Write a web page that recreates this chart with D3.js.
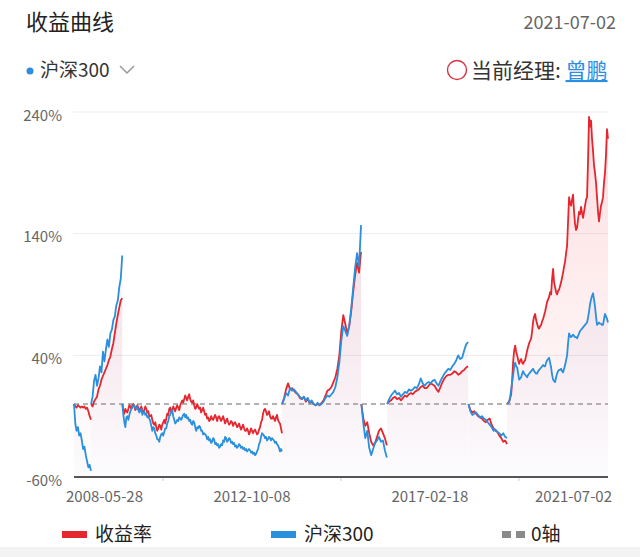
<!DOCTYPE html>
<html><head><meta charset="utf-8">
<script src="https://cdn.jsdelivr.net/npm/d3@7/dist/d3.min.js"></script>
<style>
html,body{margin:0;padding:0;background:#fff;}
svg{display:block;font-family:"Noto Sans CJK SC","Noto Sans",sans-serif;}
</style></head><body>
<svg id="c" width="640" height="557"></svg>
<script>
// ---- data ----
const yTicks = [-60, 40, 140, 240];
const xLabels = ["2008-05-28", "2012-10-08", "2017-02-18", "2021-07-02"];
const segStart = ["2008-05-28","2008-10-28","2009-08-04","2013-07-05","2015-06-15","2016-02-01","2018-01-29","2019-01-11"];
const segEnd   = ["2008-10-27","2009-08-03","2013-07-04","2015-06-12","2016-01-29","2018-01-26","2019-01-10","2021-07-02"];

const fund1 = [0,-2,-3,-1,-2,-3,-2,-3,-2,-4,-3,-6,-10,-13];
const hs1   = [0,-16,-22,-19,-26,-24,-30,-37,-35,-42,-47,-52,-50,-55];
const fund2 = [0,-2,2,4,6,12,15,20,23,26,29,32,36,39,45,50,58,66,73,79,85,87];
const hs2   = [0,6,19,24,15,21,31,26,43,35,45,53,47,58,61,69,72,81,85,96,103,122];
const fund3 = [0,-5,-8,-4,-6,-7,-4,-1,-2,-4,-1,0,-2,-5,-3,-1,-3,-6,-4,-2,-5,-7,-5,-2,-4,-7,-6,-10,-10,-9,-13,-16,-17,-15,-19,-22,-20,-17,-18,-21,-17,-15,-13,-16,-12,-8,-9,-4,-3,-7,-5,-2,-4,-6,-3,-1,-3,-5,-1,1,3,1,4,7,5,3,6,8,4,2,1,3,-1,-4,-3,0,-2,-4,-3,-7,-5,-3,-6,-9,-8,-12,-11,-14,-13,-10,-12,-13,-11,-9,-11,-14,-11,-10,-12,-14,-12,-10,-13,-16,-14,-12,-15,-17,-16,-14,-15,-18,-16,-15,-17,-19,-18,-16,-19,-21,-19,-17,-20,-22,-22,-20,-22,-25,-23,-20,-22,-24,-22,-21,-23,-25,-24,-21,-19,-15,-13,-8,-5,-4,-6,-9,-8,-6,-10,-12,-12,-10,-12,-14,-11,-9,-13,-15,-16,-20,-24];
const hs3   = [0,-9,-15,-19,-11,-10,-13,-9,-6,-4,-3,-1,-1,-3,-4,-2,-5,-7,-6,-4,-9,-7,-6,-9,-8,-11,-10,-12,-14,-18,-22,-19,-20,-24,-26,-29,-29,-31,-27,-25,-24,-26,-23,-20,-20,-16,-14,-10,-9,-6,-5,-10,-13,-16,-15,-13,-14,-11,-12,-13,-11,-9,-8,-11,-9,-12,-11,-14,-13,-16,-17,-14,-15,-19,-22,-19,-20,-18,-19,-22,-22,-25,-24,-25,-26,-29,-27,-30,-29,-32,-31,-28,-29,-33,-32,-34,-33,-36,-35,-33,-34,-30,-31,-27,-28,-31,-30,-28,-29,-32,-31,-33,-32,-35,-34,-36,-35,-33,-34,-36,-35,-37,-36,-38,-37,-39,-38,-37,-38,-40,-39,-41,-40,-42,-41,-39,-37,-33,-31,-27,-24,-25,-26,-28,-27,-30,-29,-27,-28,-30,-28,-29,-30,-32,-31,-33,-34,-36,-39,-37,-39];
const fund4 = [0,5,12,17,12,13,11,9,8,5,4,6,2,4,1,2,0,-1,0,-1,1,3,7,11,12,14,18,22,29,40,60,73,66,58,64,76,92,106,116,108,125];
const hs4   = [0,4,9,7,13,11,12,10,8,6,4,6,3,5,1,3,0,-1,1,-1,0,2,5,7,6,8,10,14,22,34,52,64,60,56,64,78,95,112,124,113,147];
const fund5 = [0,-12,-18,-15,-24,-31,-34,-32,-27,-22,-20,-24,-28,-34];
const hs5   = [0,-16,-28,-22,-36,-42,-37,-32,-30,-27,-31,-30,-38,-44];
const fund6 = [0,2,3,5,6,4,5,3,5,7,6,8,9,8,10,11,12,14,15,13,13,15,17,16,15,12,10,14,18,21,23,24,24,25,27,26,24,25,27,28,30,31];
const hs6   = [0,4,7,9,11,8,9,6,8,10,9,12,11,12,14,13,16,21,17,15,17,18,17,19,20,17,15,19,22,25,27,29,28,31,33,36,40,37,38,44,49,51];
const fund7 = [0,-5,-7,-6,-8,-10,-11,-12,-14,-15,-13,-12,-17,-20,-22,-23,-26,-28,-31,-30,-33];
const hs7   = [0,-6,-9,-8,-7,-9,-11,-10,-12,-13,-15,-17,-19,-22,-21,-23,-24,-26,-24,-27,-28];
const fund8 = [0,1,2,5,8,20,35,44,48,43,40,36,33,36,37,34,33,35,36,40,44,47,50,52,54,60,68,72,74,69,66,63,62,64,65,68,70,73,76,80,84,86,88,92,90,103,111,100,96,92,90,93,94,97,100,104,108,113,117,124,130,150,170,165,163,168,172,158,148,143,145,152,158,156,162,157,153,158,163,168,170,200,236,228,233,218,208,196,190,182,170,158,150,157,163,166,170,182,190,205,226,218];
const hs8   = [0,1,2,6,12,18,24,30,34,31,30,25,20,21,22,25,27,25,24,23,22,24,25,26,27,28,29,27,26,25,25,27,28,29,30,31,32,31,31,34,36,37,38,34,30,24,20,19,18,22,25,27,28,28,29,27,26,29,32,36,40,50,58,56,55,56,57,56,55,55,54,56,58,60,61,62,63,64,65,66,67,71,76,82,86,89,91,86,80,72,65,66,67,66,66,65,65,70,74,72,70,67];

const fundSegs = [fund1,fund2,fund3,fund4,fund5,fund6,fund7,fund8];
const hsSegs   = [hs1,hs2,hs3,hs4,hs5,hs6,hs7,hs8];

// ---- chart ----
const parse = d3.timeParse("%Y-%m-%d");
const svg = d3.select("#c");
const L = 74, R = 608, T = 112, B = 477;
const x = d3.scaleTime().domain([parse(xLabels[0]), parse(xLabels[3])]).range([L, R]);
const y = d3.scaleLinear().domain([-60, 240]).range([B, T]);

function build(vals, i) {
  const s = parse(segStart[i]).getTime(), e = parse(segEnd[i]).getTime();
  return vals.map((v, k) => ({d: new Date(s + (e - s) * k / (vals.length - 1)), v}));
}
const fundData = fundSegs.map(build);
const hsData = hsSegs.map(build);

const defs = svg.append("defs");
function grad(id, col, stops) {
  const g = defs.append("linearGradient").attr("id", id).attr("gradientUnits", "userSpaceOnUse")
    .attr("x1", 0).attr("x2", 0).attr("y1", T).attr("y2", B);
  stops.forEach(s => g.append("stop").attr("offset", s[0]).attr("stop-color", col).attr("stop-opacity", s[1]));
}
grad("gRed", "#f03040", [[0, 0.16], [0.6, 0.07], [1, 0.0]]);
grad("gBlue", "#7868b8", [[0, 0.10], [0.6, 0.06], [1, 0.02]]);

// title & header
svg.append("text").attr("x", 26).attr("y", 30).attr("font-size", 22).attr("fill", "#222").text("收益曲线");
svg.append("text").attr("x", 616).attr("y", 29).attr("text-anchor", "end").attr("font-size", 18).attr("fill", "#666").text("2021-07-02");
svg.append("circle").attr("cx", 30).attr("cy", 71).attr("r", 3.5).attr("fill", "#2b8ee0");
svg.append("text").attr("x", 40).attr("y", 77).attr("font-size", 19).attr("fill", "#333").text("沪深300");
svg.append("path").attr("d", "M120,66 L127,73 L134,66").attr("fill", "none").attr("stroke", "#999").attr("stroke-width", 1.5);
svg.append("circle").attr("cx", 457).attr("cy", 70).attr("r", 9.5).attr("fill", "none").attr("stroke", "#d43545").attr("stroke-width", 1.4);
const mg = svg.append("text").attr("x", 471).attr("y", 78).attr("font-size", 21).attr("fill", "#333");
mg.append("tspan").text("当前经理: ");
mg.append("tspan").attr("fill", "#2b8ee0").attr("text-decoration", "underline").text("曾鹏");

// grid
svg.append("g").selectAll("line").data(yTicks.filter(t => t > -60)).join("line")
  .attr("x1", L - 1).attr("x2", R).attr("y1", d => y(d)).attr("y2", d => y(d))
  .attr("stroke", "#ececec").attr("stroke-width", 1);
svg.append("g").selectAll("text").data(yTicks).join("text")
  .attr("x", 62).attr("y", d => y(d) + 8.5).attr("text-anchor", "end")
  .attr("font-size", 15).attr("fill", "#666").text(d => d + "%");

// areas
const area = d3.area().x(d => x(d.d)).y0(y(-60)).y1(d => y(d.v));
const line = d3.line().x(d => x(d.d)).y(d => y(d.v));
svg.append("g").selectAll("path").data(fundData).join("path").attr("d", area).attr("fill", "url(#gRed)");
svg.append("g").selectAll("path").data(hsData).join("path").attr("d", area).attr("fill", "url(#gBlue)");

// zero line
svg.append("line").attr("x1", L).attr("x2", R).attr("y1", y(0)).attr("y2", y(0))
  .attr("stroke", "#999").attr("stroke-width", 1.5).attr("stroke-dasharray", "5,4");

// lines
svg.append("g").selectAll("path").data(fundData).join("path").attr("d", line)
  .attr("fill", "none").attr("stroke", "#e5262f").attr("stroke-width", 1.8).attr("stroke-linejoin", "round");
svg.append("g").selectAll("path").data(hsData).join("path").attr("d", line)
  .attr("fill", "none").attr("stroke", "#2a8fdc").attr("stroke-width", 1.8).attr("stroke-linejoin", "round");

// x axis
svg.append("line").attr("x1", L).attr("x2", R).attr("y1", B).attr("y2", B).attr("stroke", "#555").attr("stroke-width", 2);
const lab = xLabels.map(parse);
const tickDates = d3.range(3).map(i => new Date((lab[i].getTime() + lab[i + 1].getTime()) / 2));
svg.append("g").selectAll("line").data(tickDates).join("line")
  .attr("x1", d => x(d)).attr("x2", d => x(d)).attr("y1", B + 1).attr("y2", B + 4)
  .attr("stroke", "#ccc").attr("stroke-width", 1);
svg.append("g").selectAll("text").data(xLabels).join("text")
  .attr("x", (d, i) => x(lab[i]) + (i === 0 ? -8 : i === 3 ? 4 : 0))
  .attr("y", 502)
  .attr("text-anchor", (d, i) => i === 0 ? "start" : i === 3 ? "end" : "middle")
  .attr("font-size", 15).attr("fill", "#666").text(d => d);

// legend
const leg = [
  {name: "收益率", color: "#e5262f", x: 62},
  {name: "沪深300", color: "#2a8fdc", x: 271},
];
leg.forEach(l => {
  svg.append("rect").attr("x", l.x).attr("y", 531).attr("width", 25).attr("height", 7).attr("fill", l.color);
  svg.append("text").attr("x", l.x + 33).attr("y", 541).attr("font-size", 19).attr("fill", "#222").text(l.name);
});
svg.append("rect").attr("x", 502).attr("y", 531).attr("width", 9).attr("height", 7).attr("fill", "#8a8a8a");
svg.append("rect").attr("x", 516).attr("y", 531).attr("width", 9).attr("height", 7).attr("fill", "#8a8a8a");
svg.append("text").attr("x", 531).attr("y", 541).attr("font-size", 19).attr("fill", "#222").text("0轴");

// footer band
svg.append("rect").attr("x", 0).attr("y", 547).attr("width", 640).attr("height", 10).attr("fill", "#f3f3f3");
</script>
</body></html>
